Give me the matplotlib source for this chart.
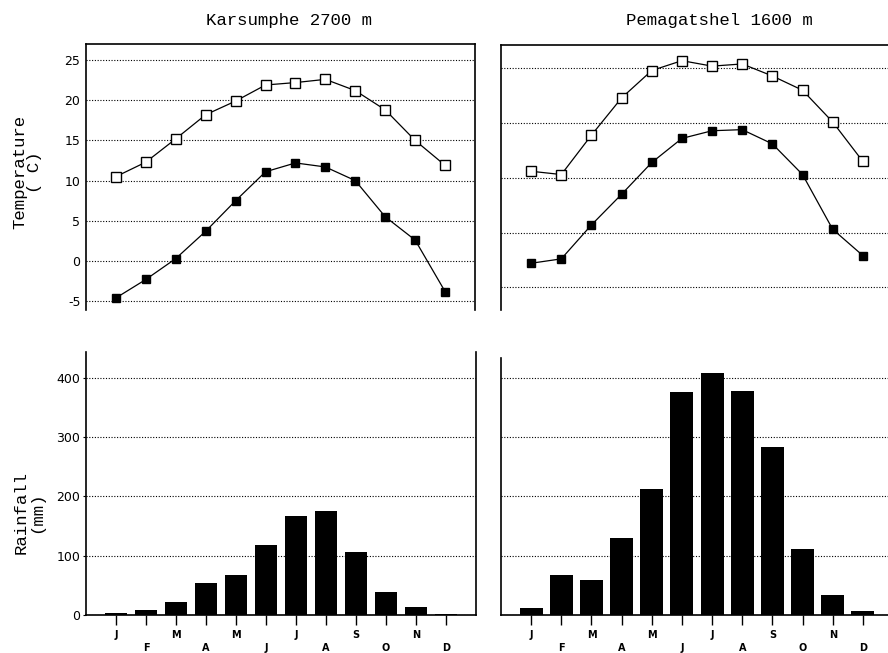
import matplotlib
matplotlib.use('Agg')
import matplotlib.pyplot as plt
import numpy as np

plt.rcParams['axes.unicode_minus'] = False

# data
months = ['J', 'F', 'M', 'A', 'M', 'J', 'J', 'A', 'S', 'O', 'N', 'D']

kar_tmax = [10.5, 12.3, 15.2, 18.2, 19.9, 21.9, 22.2, 22.6, 21.2, 18.8, 15.0, 11.9]
kar_tmin = [-4.6, -2.3, 0.3, 3.7, 7.5, 11.1, 12.2, 11.7, 10.0, 5.5, 2.6, -3.8]
kar_rain = [4, 8, 22, 54, 68, 118, 167, 175, 106, 38, 13, 2]

pem_tmax = [15.6, 15.3, 18.9, 22.3, 24.8, 25.7, 25.2, 25.4, 24.3, 23.0, 20.1, 16.5]
pem_tmin = [7.2, 7.6, 10.7, 13.5, 16.4, 18.6, 19.3, 19.4, 18.1, 15.3, 10.3, 7.9]
pem_rain = [12, 67, 59, 130, 213, 376, 408, 378, 284, 112, 33, 6]

kar_title = 'Karsumphe 2700 m'
pem_title = 'Pemagatshel 1600 m'

W, H = 888, 653
fig = plt.figure(figsize=(W / 100, H / 100), dpi=100)


def rect(x0, y0, x1, y1):
    return [x0 / W, 1 - y1 / H, (x1 - x0) / W, (y1 - y0) / H]


ax_tl = fig.add_axes(rect(86, 44, 475, 310))
ax_tr = fig.add_axes(rect(501, 45, 893, 310))
ax_bl = fig.add_axes(rect(86, 352, 476, 615))
ax_br = fig.add_axes(rect(501, 358, 893, 615))

x = np.arange(12)
grid_kw = dict(color='black', linestyle=(0, (1, 1.5)), linewidth=0.8)

# temperature panels
for ax, tmax, tmin in [(ax_tl, kar_tmax, kar_tmin), (ax_tr, pem_tmax, pem_tmin)]:
    ax.plot(x, tmax, '-s', color='black', lw=0.9, ms=7, mfc='white', mec='black', mew=1.0, zorder=3)
    ax.plot(x, tmin, '-s', color='black', lw=0.9, ms=6, mfc='black', mec='black', zorder=3)
    ax.set_xlim(-1, 12)
    ax.set_xticks([])
    ax.spines['bottom'].set_visible(False)
    for s in ax.spines.values():
        s.set_linewidth(1.2)
    ax.yaxis.grid(True, **grid_kw)
    ax.set_axisbelow(True)

ax_tl.set_ylim(-6.1, 27.0)
ax_tl.set_yticks([-5, 0, 5, 10, 15, 20, 25])
ax_tl.tick_params(axis='y', length=0, pad=4, labelsize=9)

ax_tr.set_ylim(2.93, 27.13)
ax_tr.set_yticks([5, 10, 15, 20, 25])
ax_tr.tick_params(axis='y', length=0, labelleft=False)

# rainfall panels
xlabels = [m if i % 2 == 0 else '\n' + m for i, m in enumerate(months)]
for ax, rain in [(ax_bl, kar_rain), (ax_br, pem_rain)]:
    ax.bar(x, rain, width=0.76, color='black', zorder=3)
    ax.set_xlim(-1, 12)
    ax.set_xticks(x)
    ax.set_xticklabels(xlabels, fontsize=7, fontweight='bold', linespacing=1.3)
    ax.tick_params(axis='x', length=7, width=1, pad=4)
    ax.spines['top'].set_visible(False)
    for s in ax.spines.values():
        s.set_linewidth(1.2)
    ax.yaxis.grid(True, **grid_kw)
    ax.set_axisbelow(True)
    ax.set_yticks([0, 100, 200, 300, 400])

ax_bl.set_ylim(0, 443.3)
ax_bl.tick_params(axis='y', length=2, pad=2, labelsize=9)
ax_br.set_ylim(0, 433.2)
ax_br.tick_params(axis='y', length=0, labelleft=False)
ax_br.spines['right'].set_visible(False)

# titles and axis labels
mono = 'Liberation Mono'
fig.text(289 / W, 1 - 20 / H, kar_title, family=mono, fontsize=12.5, ha='center', va='center')
fig.text(719 / W, 1 - 20 / H, pem_title, family=mono, fontsize=12.5, ha='center', va='center')
fig.text(27 / W, 1 - 172 / H, 'Temperature\n( C)', family=mono, fontsize=12.5, rotation=90,
         ha='center', va='center', multialignment='center', linespacing=1.0)
fig.text(29 / W, 1 - 512 / H, 'Rainfall\n(mm)', family=mono, fontsize=12.5, rotation=90,
         ha='center', va='center', multialignment='center', linespacing=1.0)

fig.savefig('out.png', dpi=100)
